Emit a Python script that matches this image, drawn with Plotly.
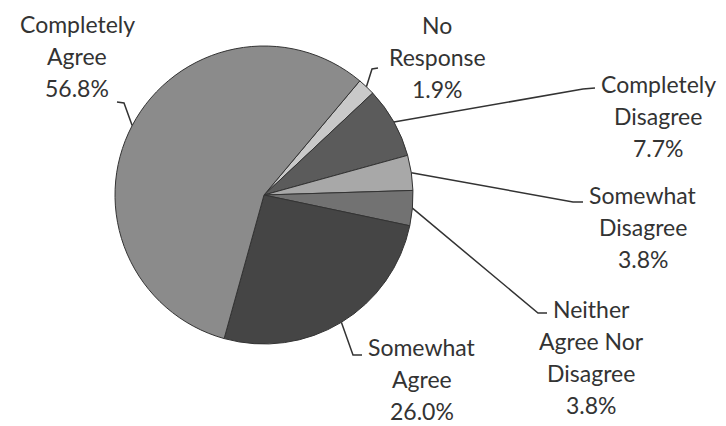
import math
import plotly.graph_objects as go

# Survey responses, listed clockwise starting at the top-right wedge
categories = ["No Response", "Completely Disagree", "Somewhat Disagree",
              "Neither Agree Nor Disagree", "Somewhat Agree", "Completely Agree"]
percent = [1.9, 7.7, 3.8, 3.8, 26.0, 56.8]

# Label text lines for each category (last line is the value)
label_lines = {
    "No Response": ["No", "Response"],
    "Completely Disagree": ["Completely", "Disagree"],
    "Somewhat Disagree": ["Somewhat", "Disagree"],
    "Neither Agree Nor Disagree": ["Neither", "Agree Nor", "Disagree"],
    "Somewhat Agree": ["Somewhat", "Agree"],
    "Completely Agree": ["Completely", "Agree"],
}

# Styling
slice_colors = ["#c9c9c9", "#5b5b5b", "#a8a8a8", "#727272", "#454545", "#8b8b8b"]
W, H = 726, 426
CX, CY, R = 264, 195, 149          # pie centre / radius in pixels
ROTATION = 40                      # first wedge starts 40 deg clockwise from 12 o'clock
FONT = "Lato"
FONT_SIZE = 23
TEXT_COLOR = "#333333"
LINE_GAP = 32

# Label block placement (centre x, first-line y) and leader elbow points
label_pos = {
    "Completely Agree": (77, 24, [(117, 102), (124, 103)]),
    "No Response": (437, 25, [(378, 68), (372, 69)]),
    "Completely Disagree": (658, 84, [(595, 88), (583, 89)]),
    "Somewhat Disagree": (643, 195, [(583, 202), (573, 202)]),
    "Neither Agree Nor Disagree": (591, 309, [(547, 313), (538, 313)]),
    "Somewhat Agree": (422, 347, [(362, 355), (353, 355)]),
}


def px(x):
    return x / W


def py(y):
    return 1 - y / H


fig = go.Figure(go.Pie(
    labels=categories,
    values=percent,
    sort=False,
    direction="clockwise",
    rotation=ROTATION,
    textinfo="none",
    hoverinfo="label+value",
    marker=dict(colors=slice_colors, line=dict(color="#333333", width=1)),
    domain=dict(x=[px(CX - R), px(CX + R)], y=[py(CY + R), py(CY - R)]),
    showlegend=False,
))

annotations = []
shapes = []
total = sum(percent)
cum = 0.0
for cat, val in zip(categories, percent):
    mid = ROTATION + (cum + val / 2) / total * 360
    cum += val
    ex = CX + R * math.sin(math.radians(mid))
    ey = CY - R * math.cos(math.radians(mid))
    tx, ty, elbow = label_pos[cat]
    lines = label_lines[cat] + [f"{val:.1f}%"]
    for i, t in enumerate(lines):
        annotations.append(dict(
            x=px(tx), y=py(ty + i * LINE_GAP), xref="paper", yref="paper",
            text=t, showarrow=False, xanchor="center", yanchor="middle",
            font=dict(family=FONT, size=FONT_SIZE, color=TEXT_COLOR),
        ))
    pts = elbow + [(ex, ey)]
    path = "M " + " L ".join(f"{px(a)},{py(b)}" for a, b in pts)
    shapes.append(dict(type="path", xref="paper", yref="paper", path=path,
                       line=dict(color="#333333", width=1.5)))

fig.update_layout(
    width=W, height=H,
    margin=dict(l=0, r=0, t=0, b=0),
    paper_bgcolor="white",
    plot_bgcolor="white",
    annotations=annotations,
    shapes=shapes,
)

fig.write_html("out.html")
